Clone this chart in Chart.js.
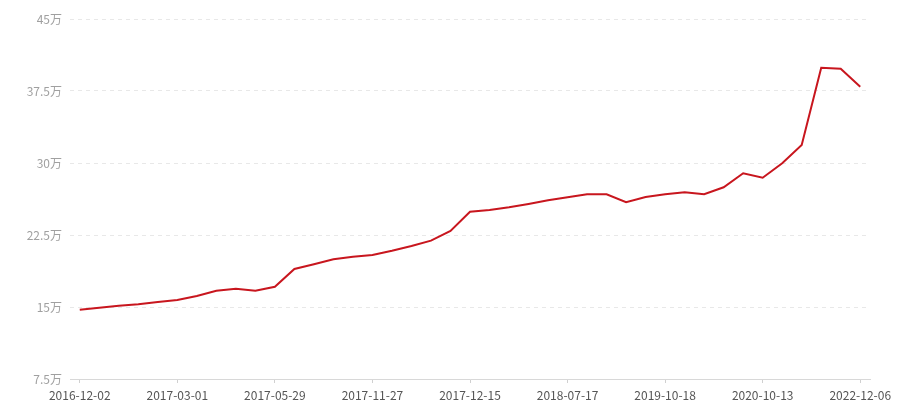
<!DOCTYPE html>
<html>
<head>
<meta charset="utf-8">
<script src="https://cdn.jsdelivr.net/npm/chart.js@4/dist/chart.umd.min.js"></script>
<style>
html,body{margin:0;padding:0;background:#fff;}
#wrap{width:900px;height:400px;position:relative;}
</style>
</head>
<body>
<div id="wrap"><canvas id="c" width="900" height="400"></canvas></div>
<script>
// Category labels (only the dates shown on the axis are readable; the rest are unlabeled points)
const categories = [
  "2016-12-02","","","","",
  "2017-03-01","","","","",
  "2017-05-29","","","","",
  "2017-11-27","","","","",
  "2017-12-15","","","","",
  "2018-07-17","","","","",
  "2019-10-18","","","","",
  "2020-10-13","","","","",
  "2022-12-06"
];
// Values in 万
const values = [
  14.72, 14.93, 15.14, 15.28, 15.52,
  15.73, 16.15, 16.70, 16.91, 16.70,
  17.11, 18.96, 19.45, 19.97, 20.24,
  20.42, 20.86, 21.35, 21.91, 22.92,
  24.93, 25.10, 25.39, 25.73, 26.11,
  26.43, 26.74, 26.74, 25.91, 26.46,
  26.74, 26.95, 26.74, 27.47, 28.93,
  28.47, 29.97, 31.88, 39.93, 39.82,
  37.95
];
const yTicks = [7.5, 15, 22.5, 30, 37.5, 45];
const unit = "万";

const font = "'Microsoft YaHei','Noto Sans CJK SC','Noto Sans',sans-serif";

new Chart(document.getElementById('c'), {
  type: 'line',
  data: {
    labels: categories,
    datasets: [{
      data: values,
      borderColor: '#c8161e',
      borderWidth: 2,
      pointRadius: 0,
      pointHoverRadius: 0,
      tension: 0,
      fill: false
    }]
  },
  options: {
    responsive: false,
    animation: false,
    devicePixelRatio: 1,
    layout: { padding: { left: 0, right: 30, top: 19, bottom: 0 } },
    plugins: { legend: { display: false }, tooltip: { enabled: false } },
    scales: {
      x: {
        type: 'category',
        offset: true,
        afterBuildTicks: (axis) => {
          axis.ticks = axis.ticks.filter(t => categories[t.value] !== '');
        },
        grid: {
          offset: false,
          drawOnChartArea: false,
          drawTicks: true,
          tickLength: 4,
          tickColor: '#d0d0d0',
          color: '#d0d0d0'
        },
        border: { display: true, color: '#d8d8d8', width: 1 },
        ticks: {
          autoSkip: false,
          maxRotation: 0,
          padding: 5,
          color: '#555',
          font: { family: font, size: 12 },
          callback: (v, i, ticks) => categories[ticks[i].value]
        },
        afterFit: (axis) => { axis.height = 21; }
      },
      y: {
        min: yTicks[0],
        max: yTicks[yTicks.length - 1],
        afterBuildTicks: (axis) => { axis.ticks = yTicks.map(v => ({ value: v })); },
        grid: {
          color: '#e8e8e8',
          lineWidth: 1,
          drawTicks: false,
          tickLength: 0
        },
        border: { display: false, dash: [4, 4] },
        ticks: {
          padding: 8,
          color: '#a0a0a0',
          font: { family: font, size: 12 },
          callback: (v) => v + unit
        },
        afterFit: (axis) => { axis.width = 70; }
      }
    }
  }
});
</script>
</body>
</html>
